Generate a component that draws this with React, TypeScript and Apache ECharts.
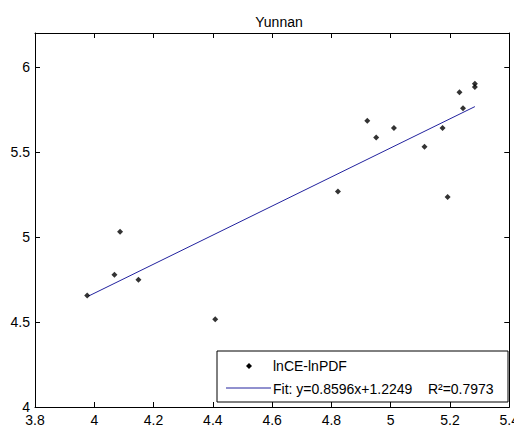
import React, { useEffect, useRef } from "react";
import * as echarts from "echarts";

const TITLE = "Yunnan";
const SERIES_NAME = "lnCE-lnPDF";
const FIT_LABEL = "Fit: y=0.8596x+1.2249    R\u00B2=0.7973";

const xValues = [3.976, 4.068, 4.087, 4.149, 4.408, 4.822, 4.921, 4.951, 5.011, 5.114, 5.175, 5.192, 5.232, 5.244, 5.284, 5.284];
const yValues = [4.656, 4.778, 5.031, 4.749, 4.516, 5.267, 5.684, 5.586, 5.641, 5.531, 5.641, 5.235, 5.852, 5.758, 5.901, 5.882];

const fitX = [3.98, 5.284];
const fitY = [4.652, 5.767];

const xTicks = { min: 3.8, max: 5.4, interval: 0.2 };
const yTicks = { min: 4, max: 6.2, interval: 0.5 };

const FONT = "Liberation Sans, Arial, sans-serif";

export default function App() {
  const ref = useRef<HTMLDivElement>(null);
  useEffect(() => {
    if (!ref.current) return;
    const chart = echarts.init(ref.current, null, { renderer: "svg" });
    const fmt = (v: number) => String(Math.round(v * 10) / 10);
    const frameAxisX = (pos: "bottom" | "top", labels: boolean) => ({
      type: "value",
      position: pos,
      min: xTicks.min,
      max: xTicks.max,
      interval: xTicks.interval,
      axisLine: { show: true, onZero: false, lineStyle: { color: "#000", width: 1 } },
      axisTick: { show: true, inside: true, length: 5, lineStyle: { color: "#000" } },
      axisLabel: {
        show: labels,
        color: "#000",
        fontSize: 14,
        fontFamily: FONT,
        margin: 6,
        formatter: fmt,
      },
      splitLine: { show: false },
    });
    const frameAxisY = (pos: "left" | "right", labels: boolean) => ({
      type: "value",
      position: pos,
      min: yTicks.min,
      max: yTicks.max,
      interval: yTicks.interval,
      axisLine: { show: true, onZero: false, lineStyle: { color: "#000", width: 1 } },
      axisTick: { show: true, inside: true, length: 5, lineStyle: { color: "#000" } },
      axisLabel: {
        show: labels,
        showMaxLabel: false,
        color: "#000",
        fontSize: 14,
        lineHeight: 12,
        fontFamily: FONT,
        margin: 5,
        formatter: fmt,
      },
      splitLine: { show: false },
    });
    chart.setOption({
      animation: false,
      backgroundColor: "#fff",
      title: {
        text: TITLE,
        left: 274,
        top: 10,
        textAlign: "center",
        textStyle: { fontSize: 14, fontWeight: "normal", color: "#000", fontFamily: FONT },
      },
      grid: { left: 35, right: 9, top: 33, bottom: 26, containLabel: false },
      xAxis: [frameAxisX("bottom", true), frameAxisX("top", false)],
      yAxis: [frameAxisY("left", true), frameAxisY("right", false)],
      series: [
        {
          name: SERIES_NAME,
          type: "scatter",
          xAxisIndex: 0,
          yAxisIndex: 0,
          symbol: "diamond",
          symbolSize: 6,
          itemStyle: { color: "#000" },
          data: xValues.map((x, i) => [x, yValues[i]]),
          z: 3,
        },
        {
          name: "Fit",
          type: "line",
          xAxisIndex: 0,
          yAxisIndex: 0,
          showSymbol: false,
          symbol: "none",
          lineStyle: { color: "#22229e", width: 1 },
          data: fitX.map((x, i) => [x, fitY[i]]),
          z: 2,
        },
      ],
      graphic: [
        {
          type: "group",
          z: 100,
          children: [
            {
              type: "rect",
              shape: { x: 217, y: 351, width: 291, height: 51 },
              style: { fill: "#fff", stroke: "#000", lineWidth: 1 },
            },
            {
              type: "polygon",
              shape: { points: [[249, 363], [252, 366], [249, 369], [246, 366]] },
              style: { fill: "#000" },
            },
            {
              type: "text",
              x: 273,
              y: 366,
              style: {
                text: SERIES_NAME,
                fill: "#000",
                fontSize: 14,
                fontFamily: FONT,
                verticalAlign: "middle",
              },
            },
            {
              type: "line",
              shape: { x1: 226, y1: 388, x2: 271, y2: 388 },
              style: { stroke: "#22229e", lineWidth: 1 },
            },
            {
              type: "text",
              x: 273,
              y: 389,
              style: {
                text: FIT_LABEL,
                fill: "#000",
                fontSize: 14,
                fontFamily: FONT,
                verticalAlign: "middle",
              },
            },
          ],
        },
      ],
    });
    return () => chart.dispose();
  }, []);
  return <div ref={ref} style={{ width: 522, height: 433, margin: -8 }} />;
}
